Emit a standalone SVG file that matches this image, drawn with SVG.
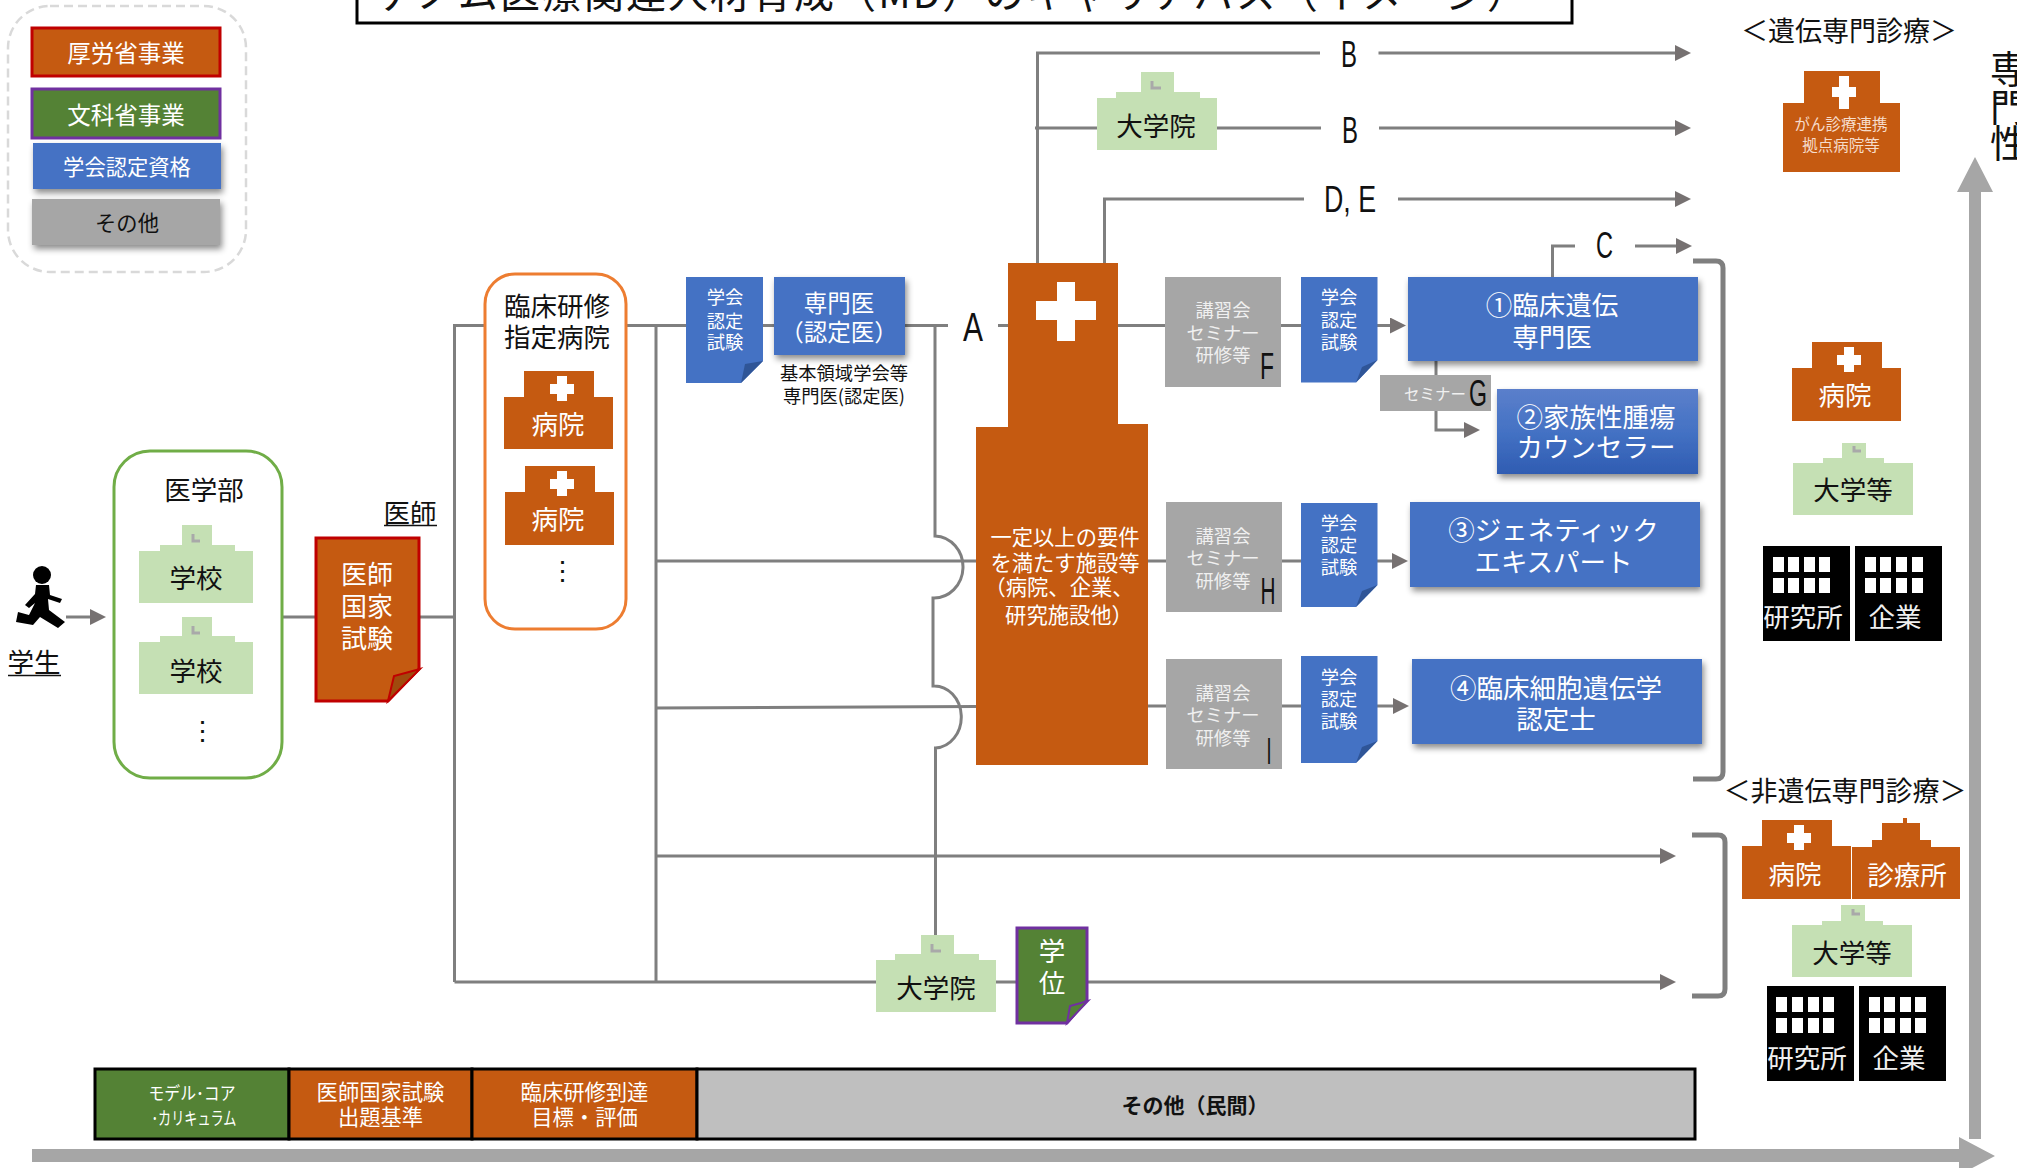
<svg xmlns="http://www.w3.org/2000/svg" width="2017" height="1168" viewBox="0 0 2017 1168">
<defs>
<style>
text{font-family:"Noto Sans CJK JP","Liberation Sans",sans-serif;text-anchor:middle;fill:#111}
.w{fill:#fff}.l{fill:#f0f0f0}
.f18{font-size:18.300px}.f21{font-size:21.300px}.f23{font-size:23.500px}.f26{font-size:26.500px}
.ltr{font-family:"Liberation Sans",sans-serif;font-size:36px;fill:#111}
.c{fill:none;stroke:#7f7f7f;stroke-width:3}
.a{marker-end:url(#ah)}
.or{fill:#c55a11}.gr{fill:#c5e0b4}.bl{fill:#4472c4}.gy{fill:#a6a6a6}.dg{fill:#548235}.bk{fill:#000}.wh{fill:#fff}
.fold{fill:#2f5597}
.lm{fill:none;stroke:#a9a9a9;stroke-width:3}
.br{fill:none;stroke:#7f7f7f;stroke-width:5}
</style>
<marker id="ah" markerUnits="userSpaceOnUse" markerWidth="16" markerHeight="16" viewBox="0 0 16 16" refX="8" refY="8" orient="auto"><path d="M0 0L16 8L0 16z" fill="#767171"/></marker>
<filter id="sh" x="-10%" y="-15%" width="125%" height="140%"><feDropShadow dx="2" dy="4" stdDeviation="3" flood-color="#000" flood-opacity=".45"/></filter>
<linearGradient id="g2" x1="0" y1="0" x2="0" y2="1"><stop offset="0" stop-color="#5b7fcb"/><stop offset=".5" stop-color="#4472c4"/><stop offset="1" stop-color="#2f5cb2"/></linearGradient>
</defs>
<rect width="2017" height="1168" fill="#fff"/>

<g id="connectors">
<path class="c a" d="M66 617H98"/>
<path class="c" d="M282 617H316M418 617H454.500"/>
<path class="c" d="M454.500 982V325.500H948M998 325.500H1008"/>
<path class="c" d="M656 326V982"/>
<path class="c" d="M656 561H976M656 708L976 706.500"/>
<path class="c" d="M935 326V536A29 31 0 0 1 933 598V686A27 31 0 0 1 935.500 748V935"/>
<path class="c" d="M454.500 982H876M996 982H1017"/>
<path class="c a" d="M1087 982H1668"/>
<path class="c a" d="M656 856H1668"/>
<path class="c" d="M1037.500 263V53H1320"/>
<path class="c a" d="M1378.500 53H1683"/>
<path class="c" d="M1035 128H1097M1217 128H1321"/>
<path class="c a" d="M1379 128H1683"/>
<path class="c" d="M1104.500 263V199H1304"/>
<path class="c a" d="M1398 199H1683"/>
<path class="c" d="M1552.500 277V246H1575"/>
<path class="c a" d="M1635 246H1684"/>
<path class="c" d="M1118 325.500H1165M1281 325.500H1301"/>
<path class="c a" d="M1377 325.500H1398"/>
<path class="c" d="M1148 561H1166M1282 561H1301"/>
<path class="c a" d="M1377 561H1400"/>
<path class="c" d="M1147 706H1166M1282 706H1301"/>
<path class="c a" d="M1377 706H1401"/>
<path class="c" d="M1436 361V375"/>
<path class="c a" d="M1436 411V430H1472"/>
<path class="br" d="M1693 261H1716Q1723 261 1723 268V772Q1723 779 1716 779H1693"/>
<path class="br" d="M1692 835H1718Q1725 835 1725 842V989Q1725 996 1718 996H1692"/>
</g>

<g id="legend">
<rect x="8" y="6" width="238" height="266" rx="42" fill="none" stroke="#d9d9d9" stroke-width="2.500" stroke-dasharray="9 5"/>
<rect x="32" y="28" width="188" height="48" class="or" stroke="#c00000" stroke-width="3"/>
<text x="126" y="62" class="w f23">厚労省事業</text>
<rect x="32" y="89" width="188" height="49" class="dg" stroke="#7030a0" stroke-width="3"/>
<text x="126" y="124" class="w f23">文科省事業</text>
<rect x="33" y="143" width="188" height="46" class="bl" filter="url(#sh)"/>
<text x="127" y="175" class="w f21">学会認定資格</text>
<rect x="32" y="199" width="188" height="46" class="gy" filter="url(#sh)"/>
<text x="127" y="231" class="f21">その他</text>
</g>

<g id="title">
<rect x="357" y="-10" width="1215" height="33" fill="#fff" stroke="#000" stroke-width="3"/>
<text x="951" y="8" style="font-size:40px" textLength="1152">ゲノム医療関連人材育成（MD）のキャリアパス（イメージ）</text>
</g>

<g id="student">
<ellipse cx="42" cy="575" rx="9" ry="9" class="bk"/>
<polygon class="bk" points="36,585 49,585 50,595 62,599 60,603 48,599 49,610 65,622 58,628 40,617 33,625 16,622 18,612 29,615 35,603 29,608 25,605 35,594"/>
<text x="34" y="672" class="f26">学生</text>
<path d="M8 675.500H61" stroke="#111" stroke-width="1.500"/>
</g>

<g id="med-school">
<rect x="114" y="451" width="168" height="327" rx="36" fill="#fff" stroke="#70ad47" stroke-width="3"/>
<text x="204" y="500" class="f26">医学部</text>
<path class="gr" d="M139 603V551H160V545H182V525H212V545H235V551H253V603z"/>
<path class="lm" d="M193 534V541H200"/>
<text x="196" y="588" class="f26">学校</text>
<path class="gr" d="M139 694V642H160V636H182V617H212V636H235V642H253V694z"/>
<path class="lm" d="M193 626V633H200"/>
<text x="196" y="681" class="f26">学校</text>
<text x="202" y="740" class="f26">⋮</text>
</g>

<g id="doctor-exam">
<text x="410" y="523" class="f26">医師</text>
<path d="M384 525.500H437" stroke="#111" stroke-width="1.500"/>
<path d="M316 538H419V669L388 701H316z" class="or" stroke="#c00000" stroke-width="3"/>
<path d="M388 701L394 676L420 669z" fill="#a04a0d" stroke="#c00000" stroke-width="2"/>
<text x="367" y="584" class="w" style="font-size:26px">医師</text>
<text x="367" y="616" class="w" style="font-size:26px">国家</text>
<text x="367" y="648" class="w" style="font-size:26px">試験</text>
</g>

<g id="training-hospital">
<rect x="485" y="274" width="141" height="355" rx="30" fill="#fff" stroke="#ed7d31" stroke-width="3"/>
<text x="557" y="316" class="f26">臨床研修</text>
<text x="557" y="347" class="f26">指定病院</text>
<path class="or" d="M504 449V397H524V371H594V397H613V449z"/>
<path class="wh" d="M557 376h10v8h7v10h-7v7h-10v-7h-7v-10h7z"/>
<text x="558" y="434" class="w f26">病院</text>
<path class="or" d="M505 545V492H525V466H595V492H614V545z"/>
<path class="wh" d="M557 471h10v8h7v10h-7v7h-10v-7h-7v-10h7z"/>
<text x="558" y="529" class="w f26">病院</text>
<text x="562" y="580" class="f26">⋮</text>
</g>

<g id="board-exam">
<path d="M686 277H763V361L741 383H686z" class="bl"/>
<path d="M741 383L745 364L763 361z" class="fold"/>
<text x="725" y="304" class="w f18">学会</text>
<text x="725" y="328" class="w f18">認定</text>
<text x="725" y="349" class="w f18">試験</text>
</g>

<g id="specialist">
<rect x="774" y="277" width="131" height="78" class="bl" filter="url(#sh)"/>
<text x="839" y="312" class="w f23">専門医</text>
<text x="839" y="341" class="w f23">（認定医）</text>
<text x="844" y="380" class="f18">基本領域学会等</text>
<text x="844" y="403" class="f18">専門医(認定医)</text>
</g>

<g id="letters">
<text x="973" y="341" class="ltr" style="font-size:40px" textLength="20" lengthAdjust="spacingAndGlyphs">A</text>
<text x="1349" y="67" class="ltr" textLength="16" lengthAdjust="spacingAndGlyphs">B</text>
<text x="1350" y="143" class="ltr" textLength="16" lengthAdjust="spacingAndGlyphs">B</text>
<text x="1350" y="212" class="ltr" textLength="52" lengthAdjust="spacingAndGlyphs">D, E</text>
<text x="1604.500" y="258" class="ltr" textLength="17" lengthAdjust="spacingAndGlyphs">C</text>
</g>

<g id="grad-school-top">
<path class="gr" d="M1097 150V98H1116V92H1141V72H1174V92H1200V98H1217V150z"/>
<path class="lm" d="M1152 81V88H1161"/>
<text x="1156" y="136" class="f26">大学院</text>
</g>

<g id="facility">
<path class="or" d="M976 765V427H1008V263H1118V424H1148V765z"/>
<path class="wh" d="M1057 282h18v19h21v19h-21v21h-18v-21h-21v-19h21z"/>
<text x="1065" y="545" class="w f21">一定以上の要件</text>
<text x="1065" y="571" class="w f21">を満たす施設等</text>
<text x="1059" y="595" class="w f21">（病院、企業、</text>
<text x="1069" y="623" class="w f21">研究施設他）</text>
</g>

<g id="seminar-F">
<rect x="1165" y="277" width="116" height="110" class="gy"/>
<text x="1223" y="317" class="l f18">講習会</text>
<text x="1223" y="340" class="l f18">セミナー</text>
<text x="1223" y="362" class="l f18">研修等</text>
<text x="1267" y="379" class="ltr" textLength="14" lengthAdjust="spacingAndGlyphs">F</text>
</g>
<g id="exam-1">
<path d="M1301 277H1377.500V360L1356 382.500H1301z" class="bl"/>
<path d="M1356 382.500L1362 367L1377.500 360z" class="fold"/>
<text x="1339" y="304" class="w f18">学会</text>
<text x="1339" y="327" class="w f18">認定</text>
<text x="1339" y="349" class="w f18">試験</text>
</g>
<g id="qual-1">
<rect x="1408" y="277" width="290" height="84" class="bl" filter="url(#sh)"/>
<text x="1552" y="315" class="w f26">①臨床遺伝</text>
<text x="1552" y="347" class="w f26">専門医</text>
</g>
<g id="seminar-G">
<rect x="1380" y="375" width="111" height="36" class="gy"/>
<text x="1435" y="400" class="l" style="font-size:15.500px">セミナー</text>
<text x="1478" y="406" class="ltr" textLength="18" lengthAdjust="spacingAndGlyphs">G</text>
</g>
<g id="qual-2">
<rect x="1497" y="389" width="201" height="85" fill="url(#g2)" filter="url(#sh)"/>
<text x="1596" y="427" class="w f26">②家族性腫瘍</text>
<text x="1596" y="457" class="w f26">カウンセラー</text>
</g>

<g id="seminar-H">
<rect x="1166" y="502" width="116" height="110" class="gy"/>
<text x="1223" y="543" class="l f18">講習会</text>
<text x="1223" y="565" class="l f18">セミナー</text>
<text x="1223" y="588" class="l f18">研修等</text>
<text x="1268" y="604" class="ltr" textLength="15" lengthAdjust="spacingAndGlyphs">H</text>
</g>
<g id="exam-2">
<path d="M1301 503H1377.500V585L1356 607H1301z" class="bl"/>
<path d="M1356 607L1362 591L1377.500 585z" class="fold"/>
<text x="1339" y="530" class="w f18">学会</text>
<text x="1339" y="552" class="w f18">認定</text>
<text x="1339" y="574" class="w f18">試験</text>
</g>
<g id="qual-3">
<rect x="1410" y="502" width="290" height="85" class="bl" filter="url(#sh)"/>
<text x="1553.500" y="540" class="w f26">③ジェネティック</text>
<text x="1553.500" y="572" class="w f26">エキスパート</text>
</g>

<g id="seminar-I">
<rect x="1166" y="659" width="116" height="110" class="gy"/>
<text x="1223" y="700" class="l f18">講習会</text>
<text x="1223" y="722" class="l f18">セミナー</text>
<text x="1223" y="745" class="l f18">研修等</text>
<text x="1269" y="764" class="ltr" textLength="5" lengthAdjust="spacingAndGlyphs">I</text>
</g>
<g id="exam-3">
<path d="M1301 656H1377.500V741L1356 763H1301z" class="bl"/>
<path d="M1356 763L1362 747L1377.500 741z" class="fold"/>
<text x="1339" y="684" class="w f18">学会</text>
<text x="1339" y="706" class="w f18">認定</text>
<text x="1339" y="728" class="w f18">試験</text>
</g>
<g id="qual-4">
<rect x="1412" y="659" width="290" height="85" class="bl" filter="url(#sh)"/>
<text x="1556" y="698" class="w f26">④臨床細胞遺伝学</text>
<text x="1556" y="729" class="w f26">認定士</text>
</g>

<g id="grad-school-bottom">
<path class="gr" d="M876 1012V960H895V954H921V935H954V954H979V960H996V1012z"/>
<path class="lm" d="M932 944V951H941"/>
<text x="936" y="998" class="f26">大学院</text>
</g>
<g id="degree">
<path d="M1017 928H1087V1000L1067 1023H1017z" class="dg" stroke="#7030a0" stroke-width="3"/>
<path d="M1067 1023L1070 1006L1088 1001z" fill="#548235" stroke="#7030a0" stroke-width="2"/>
<text x="1052" y="961" class="w f26">学</text>
<text x="1052" y="993" class="w f26">位</text>
</g>

<g id="genetic-care">
<text x="1849" y="41" style="font-size:27px">＜遺伝専門診療＞</text>
<path class="or" d="M1783 172V103H1804V71H1880V103H1900V172z"/>
<path class="wh" d="M1839 76h10v11h7v10h-7v12h-10v-12h-7v-10h7z"/>
<text x="1841" y="130" style="font-size:15.500px;fill:#f6dccb">がん診療連携</text>
<text x="1841" y="151" style="font-size:15.500px;fill:#f6dccb">拠点病院等</text>
<path class="or" d="M1792 421V368H1812V342H1882V368H1901V421z"/>
<path class="wh" d="M1844 347h10v8h7v10h-7v7h-10v-7h-7v-10h7z"/>
<text x="1845" y="405" class="w f26">病院</text>
<path class="gr" d="M1793 515V463H1823V458H1842V443H1866V458H1884V463H1913V515z"/>
<path class="lm" d="M1854 446V451H1861"/>
<text x="1853" y="500" class="f26">大学等</text>
<rect x="1763" y="546" width="87" height="95" class="bk"/>
<path class="wh" d="M1773 557h11v15h-11zM1788 557h11v15h-11zM1804 557h11v15h-11zM1819 557h11v15h-11zM1773 578h11v15h-11zM1788 578h11v15h-11zM1804 578h11v15h-11zM1819 578h11v15h-11z"/>
<text x="1803" y="627" class="l f26">研究所</text>
<rect x="1855" y="546" width="87" height="95" class="bk"/>
<path class="wh" d="M1865 557h11v15h-11zM1880 557h11v15h-11zM1896 557h11v15h-11zM1912 557h11v15h-11zM1865 578h11v15h-11zM1880 578h11v15h-11zM1896 578h11v15h-11zM1912 578h11v15h-11z"/>
<text x="1895" y="627" class="l f26">企業</text>
</g>

<g id="non-genetic-care">
<text x="1845" y="801" style="font-size:27px">＜非遺伝専門診療＞</text>
<path class="or" d="M1742 899V846H1762V820H1832V846H1851V899z"/>
<path class="wh" d="M1794 825h10v8h7v10h-7v7h-10v-7h-7v-10h7z"/>
<text x="1795" y="884" class="w f26">病院</text>
<path class="or" d="M1852 899V847H1872V840H1882V823H1903V818H1907V823H1920V840H1931V847H1960V899z"/>
<text x="1907" y="885" class="w f26">診療所</text>
<path class="gr" d="M1792 977V925H1822V921H1841V905H1865V921H1883V925H1912V977z"/>
<path class="lm" d="M1853 909V914H1860"/>
<text x="1852" y="963" class="f26">大学等</text>
<rect x="1767" y="986" width="87" height="95" class="bk"/>
<path class="wh" d="M1776 997h11v15h-11zM1792 997h11v15h-11zM1808 997h11v15h-11zM1823 997h11v15h-11zM1776 1018h11v15h-11zM1792 1018h11v15h-11zM1808 1018h11v15h-11zM1823 1018h11v15h-11z"/>
<text x="1807" y="1068" class="l f26">研究所</text>
<rect x="1859" y="986" width="87" height="95" class="bk"/>
<path class="wh" d="M1869 997h11v15h-11zM1884 997h11v15h-11zM1900 997h11v15h-11zM1915 997h11v15h-11zM1869 1018h11v15h-11zM1884 1018h11v15h-11zM1900 1018h11v15h-11zM1915 1018h11v15h-11z"/>
<text x="1899" y="1068" class="l f26">企業</text>
</g>

<g id="bottom-band">
<rect x="95" y="1069" width="194" height="70" class="dg" stroke="#000" stroke-width="3"/>
<rect x="289" y="1069" width="183" height="70" class="or" stroke="#000" stroke-width="3"/>
<rect x="472" y="1069" width="225" height="70" class="or" stroke="#000" stroke-width="3"/>
<rect x="697" y="1069" width="998" height="70" fill="#bfbfbf" stroke="#000" stroke-width="3"/>
<text x="192" y="1100" class="w" style="font-size:18px" textLength="87" lengthAdjust="spacingAndGlyphs">モデル･コア</text>
<text x="194" y="1125" class="w" style="font-size:18px" textLength="85" lengthAdjust="spacingAndGlyphs">･カリキュラム</text>
<text x="380.500" y="1100" class="w f21">医師国家試験</text>
<text x="380.500" y="1125" class="w f21">出題基準</text>
<text x="584.500" y="1100" class="w f21">臨床研修到達</text>
<text x="584.500" y="1125" class="w f21">目標・評価</text>
<text x="1195" y="1113" style="font-size:21px;font-weight:700">その他（民間）</text>
</g>

<g id="axes">
<path class="gy" d="M1969 1139V192H1957L1975 157L1993 192H1981V1139z"/>
<path class="gy" d="M32 1149H1959V1137L1995 1156L1959 1175V1162H32z"/>
<text x="2009" y="83" style="font-size:38px">専</text>
<text x="2009" y="121" style="font-size:38px">門</text>
<text x="2009" y="157" style="font-size:38px">性</text>
</g>
</svg>
